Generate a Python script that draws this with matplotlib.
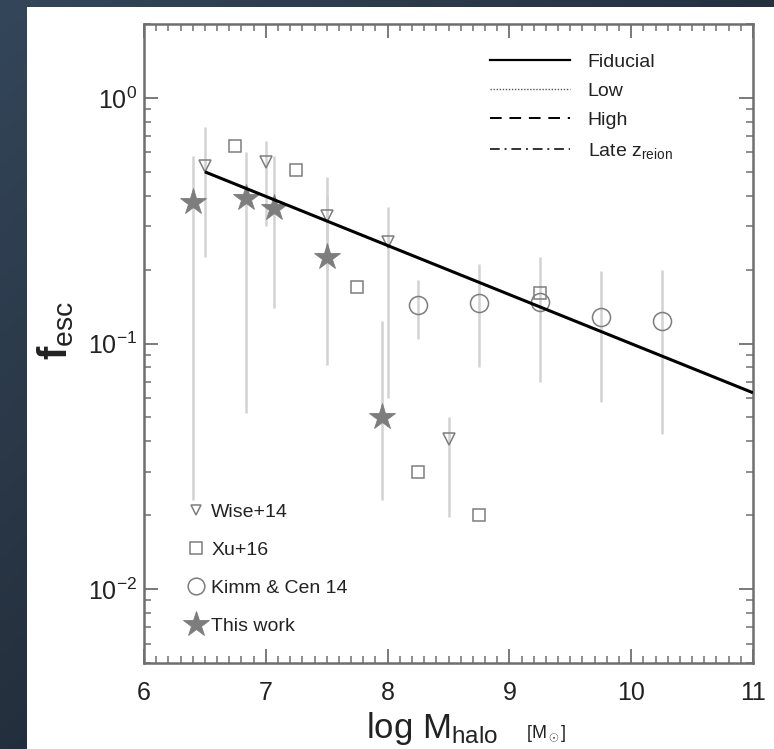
"""
Escape fraction vs halo mass: simulation compilation with the fiducial
power-law fit, drawn on a white card over a dark slide background.
"""
import matplotlib
matplotlib.use("Agg")
import matplotlib.pyplot as plt
import numpy as np
from matplotlib.lines import Line2D
from matplotlib.patches import Rectangle
from matplotlib.ticker import MultipleLocator, LogLocator, NullFormatter

plt.rcParams["font.family"] = ["Liberation Sans", "DejaVu Sans"]
plt.rcParams["mathtext.fontset"] = "custom"
plt.rcParams["mathtext.rm"] = "Liberation Sans"
plt.rcParams["mathtext.it"] = "Liberation Sans:italic"
plt.rcParams["mathtext.bf"] = "Liberation Sans:bold"
plt.rcParams["axes.unicode_minus"] = False

# Wise+14
wise_x = [6.5, 7.0, 7.5, 8.0, 8.5]
wise_f = [0.53, 0.55, 0.33, 0.26, 0.041]
wise_lo = [0.226, 0.30, 0.20, 0.06, 0.0197]
wise_hi = [0.76, 0.667, 0.476, 0.359, 0.05]

# Xu+16
xu_x = [6.75, 7.25, 7.75, 8.25, 8.75, 9.25]
xu_f = [0.64, 0.51, 0.17, 0.030, 0.020, 0.16]

# Kimm & Cen 14
kimm_x = [8.25, 8.75, 9.25, 9.75, 10.25]
kimm_f = [0.144, 0.146, 0.148, 0.128, 0.123]
kimm_lo = [0.104, 0.080, 0.070, 0.058, 0.043]
kimm_hi = [0.182, 0.21, 0.224, 0.197, 0.20]

# This work
this_x = [6.40, 6.84, 7.07, 7.50, 7.95]
this_f = [0.376, 0.39, 0.355, 0.226, 0.050]
this_lo = [0.023, 0.052, 0.14, 0.082, 0.023]
this_hi = [0.58, 0.60, 0.58, 0.40, 0.123]

# fiducial fit, end points
fid_x = [6.5, 11.0]
fid_f = [0.5, 0.063]

MARK = "#7d7d7d"
ERR = "#d2d2d2"
SPINE = "#6f6f6f"
TEXT = "#222222"

fig = plt.figure(figsize=(7.74, 7.49), dpi=100)

# dark slide background with a white card
bg = fig.add_axes([0, 0, 1, 1], zorder=-10)
gx, gy = np.meshgrid(np.linspace(0, 1, 200), np.linspace(0, 1, 200))
t = np.clip(0.55 * gx + 0.6 * gy, 0, 1)[..., None]
top = np.array([0x34, 0x46, 0x5a]) / 255
bot = np.array([0x19, 0x20, 0x29]) / 255
bg.imshow(top * (1 - t) + bot * t, extent=[0, 1, 0, 1], aspect="auto", origin="upper")
bg.add_patch(Rectangle((27 / 774, 0), 1, (749 - 7) / 749, transform=bg.transAxes,
                       facecolor="white", edgecolor="none"))
bg.set_xlim(0, 1)
bg.set_ylim(0, 1)
bg.axis("off")

ax = fig.add_axes([144 / 774, (749 - 663) / 749, 609 / 774, 639 / 749])
ax.set_yscale("log")
ax.set_xlim(6, 11)
ax.set_ylim(0.005, 2.0)


def yerr(f, lo, hi):
    f = np.asarray(f)
    return [f - np.asarray(lo), np.asarray(hi) - f]


ekw = dict(fmt="none", ecolor=ERR, elinewidth=1.8, capsize=0, zorder=1)
ax.errorbar(wise_x, wise_f, yerr=yerr(wise_f, wise_lo, wise_hi), **ekw)
ax.errorbar(kimm_x, kimm_f, yerr=yerr(kimm_f, kimm_lo, kimm_hi), **ekw)
ax.errorbar(this_x, this_f, yerr=yerr(this_f, this_lo, this_hi), **ekw)

ax.plot(wise_x, wise_f, "v", ms=8, mfc="none", mec=MARK, mew=1.1, ls="none", zorder=2)
ax.plot(xu_x, xu_f, "s", ms=9, mfc="none", mec=MARK, mew=1.1, ls="none", zorder=2)
ax.plot(kimm_x, kimm_f, "o", ms=13, mfc="none", mec=MARK, mew=1.1, ls="none", zorder=2)
ax.plot(this_x, this_f, "*", ms=20, mfc=MARK, mec=MARK, mew=0.6, ls="none", zorder=3)

ax.plot(fid_x, fid_f, color="black", lw=2.2, zorder=4, solid_capstyle="butt")

# model legend (top right)
model_handles = [
    Line2D([], [], color="black", lw=1.6, ls="-"),
    Line2D([], [], color="#555555", lw=1.0, ls=(0, (1, 1.2))),
    Line2D([], [], color="black", lw=1.4, ls=(0, (6, 4))),
    Line2D([], [], color="#333333", lw=1.4, ls=(0, (5, 2.5, 1, 2.5))),
]
model_labels = ["Fiducial", "Low", "High", r"Late z$_{\rm reion}$"]
leg1 = ax.legend(model_handles, model_labels, loc="upper left",
                 bbox_to_anchor=(0.553, 0.97), frameon=False, fontsize=14,
                 handlelength=4.1, handletextpad=0.9, labelspacing=0.6,
                 borderpad=0, labelcolor=TEXT)
ax.add_artist(leg1)

# data legend (bottom left)
data_handles = [
    Line2D([], [], marker="v", ms=7, mfc="none", mec=MARK, mew=1.1, ls="none"),
    Line2D([], [], marker="s", ms=8, mfc="none", mec=MARK, mew=1.1, ls="none"),
    Line2D([], [], marker="o", ms=12, mfc="none", mec=MARK, mew=1.1, ls="none"),
    Line2D([], [], marker="*", ms=19, mfc=MARK, mec=MARK, mew=0.6, ls="none"),
]
data_labels = ["Wise+14", "Xu+16", "Kimm & Cen 14", "This work"]
ax.legend(data_handles, data_labels, loc="upper left",
          bbox_to_anchor=(0.05, 0.265), frameon=False, fontsize=14,
          handlelength=1.2, handletextpad=0.2, labelspacing=1.05,
          borderpad=0, labelcolor=TEXT)

# ticks and spines
ax.xaxis.set_major_locator(MultipleLocator(1))
ax.xaxis.set_minor_locator(MultipleLocator(0.1))
ax.yaxis.set_major_locator(LogLocator(base=10))
ax.yaxis.set_minor_locator(LogLocator(base=10, subs=np.arange(2, 10)))
ax.yaxis.set_minor_formatter(NullFormatter())
ax.tick_params(which="both", direction="in", top=True, right=True,
               color=SPINE, labelcolor=TEXT)
ax.tick_params(which="major", length=10, width=1.3, labelsize=18)
ax.tick_params(which="minor", length=5, width=1.1)
ax.tick_params(axis="x", which="major", pad=13)
ax.tick_params(axis="y", which="major", pad=5)
for s in ax.spines.values():
    s.set_color(SPINE)
    s.set_linewidth(1.8)

# axis labels
ax.text(0.365, -0.118, r"log M$_{\rm halo}$", transform=ax.transAxes,
        fontsize=25, color=TEXT, ha="left", va="baseline")
ax.text(0.628, -0.118, r"[M$_\odot$]", transform=ax.transAxes,
        fontsize=13, color=TEXT, ha="left", va="baseline")
ax.text(-0.145, 0.52, r"$\mathbf{f}_{\rm esc}$", transform=ax.transAxes,
        fontsize=29, color=TEXT, rotation=90, ha="center", va="center")

fig.savefig("out.png", dpi=100)
